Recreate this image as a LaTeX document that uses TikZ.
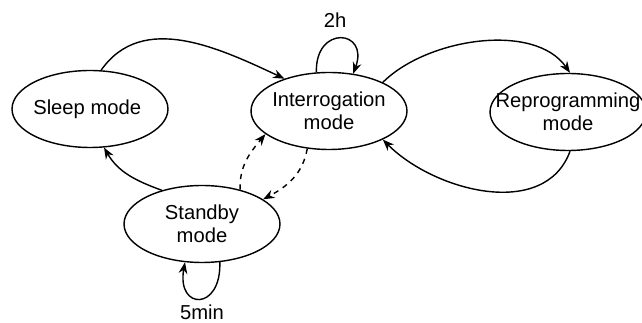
\documentclass[tikz,border=0pt]{standalone}
\usepackage{fontspec}
\setmainfont{Liberation Sans}
\usepackage{tikz}
\usetikzlibrary{shapes.geometric, arrows.meta}

\tikzset{
  state/.style={draw, ellipse, inner xsep=-0.35cm, inner ysep=0pt,
    minimum width=3.12cm, minimum height=1.54cm, align=center,
    font=\fontsize{11.5}{13.2}\selectfont},
  lbl/.style={font=\fontsize{11.5}{13.2}\selectfont}
}

\begin{document}
\begin{tikzpicture}[x=0.02cm, y=-0.02cm, thick, >={Stealth[length=6.5pt, width=5pt]}]
  \useasboundingbox (0, 0) rectangle (642, 323);

  \node[state] (sleep) at (90, 109) { Sleep mode };
  \node[state] (inter) at (329, 111) { Interrogation\\mode };
  \node[state] (repro) at (568, 112) { Reprogramming\\mode };
  \node[state] (standby) at (202, 224) { Standby\\mode };

  \node[lbl] (twoh) at (335, 20) { 2h };
  \node[lbl] (fivemin) at (202, 312) { 5min };

  \draw [->] (sleep.74) to[out=55, in=155] (inter.144);
  \draw [->] (inter.28) to[out=45, in=125, looseness=0.85] (repro.87);
  \draw [->] (repro.-87) to[out=-110, in=-45] (inter.-28);
  \draw [->] (standby.140) to[out=160, in=-60] (sleep.-70);

  \draw [->] (inter.108) to[out=92, in=70, distance=0.95cm] (inter.57);
  \draw [->] (standby.-65) to[out=-88, in=-100, distance=0.98cm] (standby.-114);

  \draw [->, dashed] (standby.42) to[out=92, in=-130] (inter.200);
  \draw [->, dashed] (inter.-120) to[out=-100, in=28] (standby.22);

\end{tikzpicture}
\end{document}
